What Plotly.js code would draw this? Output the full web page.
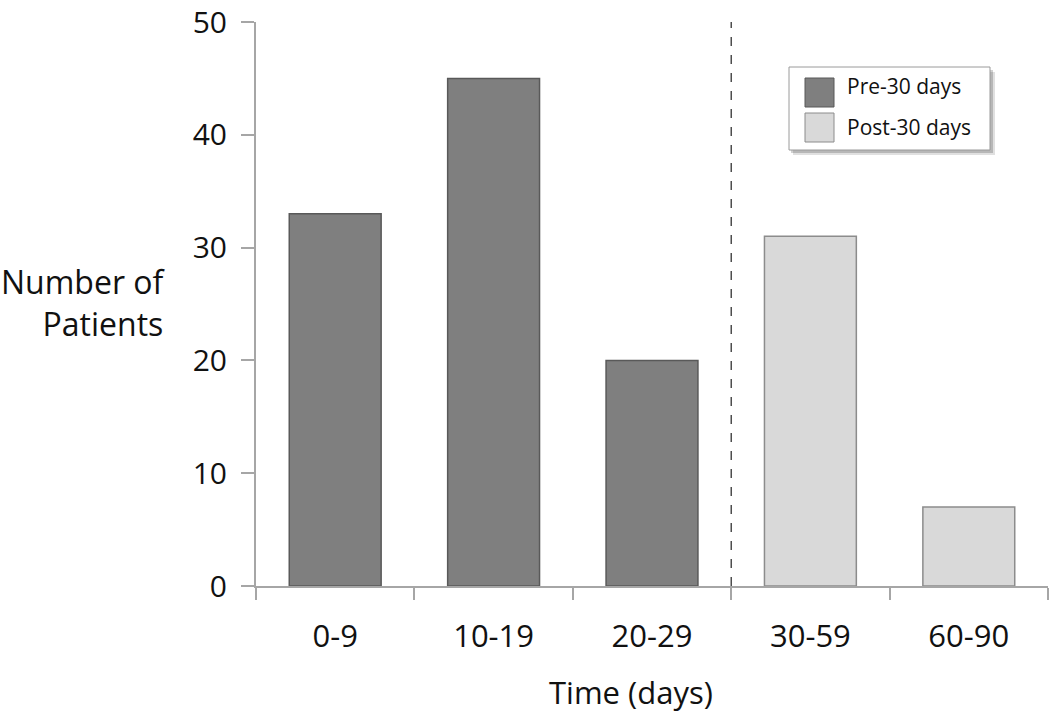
<!DOCTYPE html>
<html>
<head>
<meta charset="utf-8">
<script src="https://cdn.plot.ly/plotly-3.0.1.min.js"></script>
<style>html,body{margin:0;padding:0;background:#fff;}#chart{width:1050px;height:713px;}</style>
</head>
<body>
<div id="chart"></div>
<script>
const categories = ["0-9", "10-19", "20-29", "30-59", "60-90"];
const preCategories = ["0-9", "10-19", "20-29"];
const preValues = [33, 45, 20];
const postCategories = ["30-59", "60-90"];
const postValues = [31, 7];
const seriesNames = ["Pre-30 days", "Post-30 days"];
const yTicks = [0, 10, 20, 30, 40, 50];
const dividerAt = 2.5;

const FONT = "'Open Sans', Lato, sans-serif";
const darkFill = "#7f7f7f", darkLine = "#595959";
const lightFill = "#d9d9d9", lightLine = "#8c8c8c";

const traces = [
  {type: "bar", name: seriesNames[0], x: preCategories, y: preValues, width: 0.58,
   marker: {color: darkFill, line: {color: darkLine, width: 1.5}}, showlegend: false, hoverinfo: "x+y"},
  {type: "bar", name: seriesNames[1], x: postCategories, y: postValues, width: 0.58,
   marker: {color: lightFill, line: {color: lightLine, width: 1.5}}, showlegend: false, hoverinfo: "x+y"}
];

const L = 256, T = 22, W = 792, H = 564;
const px = v => (v - L) / W;
const py = v => (T + H - v) / H;

const shapes = [
  {type: "line", xref: "x", yref: "paper", x0: dividerAt, x1: dividerAt, y0: 0, y1: 1,
   line: {color: "#222", width: 1.2, dash: "dash"}},
  {type: "rect", xref: "paper", yref: "paper", x0: px(793), x1: px(995), y0: py(72), y1: py(155),
   line: {width: 0}, fillcolor: "rgba(0,0,0,0.12)"},
  {type: "rect", xref: "paper", yref: "paper", x0: px(791), x1: px(993), y0: py(70), y1: py(153),
   line: {width: 0}, fillcolor: "rgba(0,0,0,0.18)"},
  {type: "rect", xref: "paper", yref: "paper", x0: px(789), x1: px(990), y0: py(67), y1: py(150),
   line: {color: "#9a9a9a", width: 1}, fillcolor: "#ffffff"},
  {type: "rect", xref: "paper", yref: "paper", x0: px(805), x1: px(834), y0: py(78), y1: py(107),
   line: {color: darkLine, width: 1}, fillcolor: darkFill},
  {type: "rect", xref: "paper", yref: "paper", x0: px(805), x1: px(834), y0: py(113), y1: py(142),
   line: {color: lightLine, width: 1}, fillcolor: lightFill}
];

const annotations = [
  {xref: "paper", yref: "paper", x: px(845), y: py(86), xanchor: "left", yanchor: "middle",
   text: seriesNames[0], showarrow: false, font: {family: FONT, size: 21, color: "#111"}},
  {xref: "paper", yref: "paper", x: px(845), y: py(127), xanchor: "left", yanchor: "middle",
   text: seriesNames[1], showarrow: false, font: {family: FONT, size: 21, color: "#111"}},
  {xref: "paper", yref: "paper", x: px(168), y: py(302), xanchor: "right", yanchor: "middle", align: "right",
   text: "Number of<br>Patients", showarrow: false, font: {family: FONT, size: 32, color: "#111"}},
  {xref: "paper", yref: "paper", x: px(631), y: py(692), xanchor: "center", yanchor: "middle",
   text: "Time (days)", showarrow: false, font: {family: FONT, size: 31, color: "#111"}}
];

const layout = {
  width: 1050, height: 713,
  margin: {l: L, r: 1050 - L - W, t: T, b: 713 - T - H, pad: 0},
  paper_bgcolor: "#fff", plot_bgcolor: "#fff",
  barmode: "overlay",
  font: {family: FONT, color: "#111"},
  xaxis: {
    type: "category", categoryorder: "array", categoryarray: categories,
    range: [-0.5, 4.5], showgrid: false, zeroline: false,
    showline: true, linecolor: "#a6a6a6", linewidth: 2,
    ticks: "outside", tickson: "boundaries", ticklen: 12, tickcolor: "#a6a6a6", tickwidth: 2,
    ticklabelstandoff: 22,
    tickfont: {family: FONT, size: 31, color: "#111"}
  },
  yaxis: {
    range: [0, 50], tickvals: yTicks, showgrid: false, zeroline: false,
    showline: true, linecolor: "#a6a6a6", linewidth: 2,
    ticks: "outside", ticklen: 13, tickcolor: "#a6a6a6", tickwidth: 2,
    ticklabelstandoff: 8, ticklabeloverflow: "allow",
    tickfont: {family: FONT, size: 30, color: "#111"}
  },
  shapes: shapes,
  annotations: annotations,
  showlegend: false
};

Plotly.newPlot("chart", traces, layout, {displayModeBar: false, staticPlot: true});
</script>
</body>
</html>
